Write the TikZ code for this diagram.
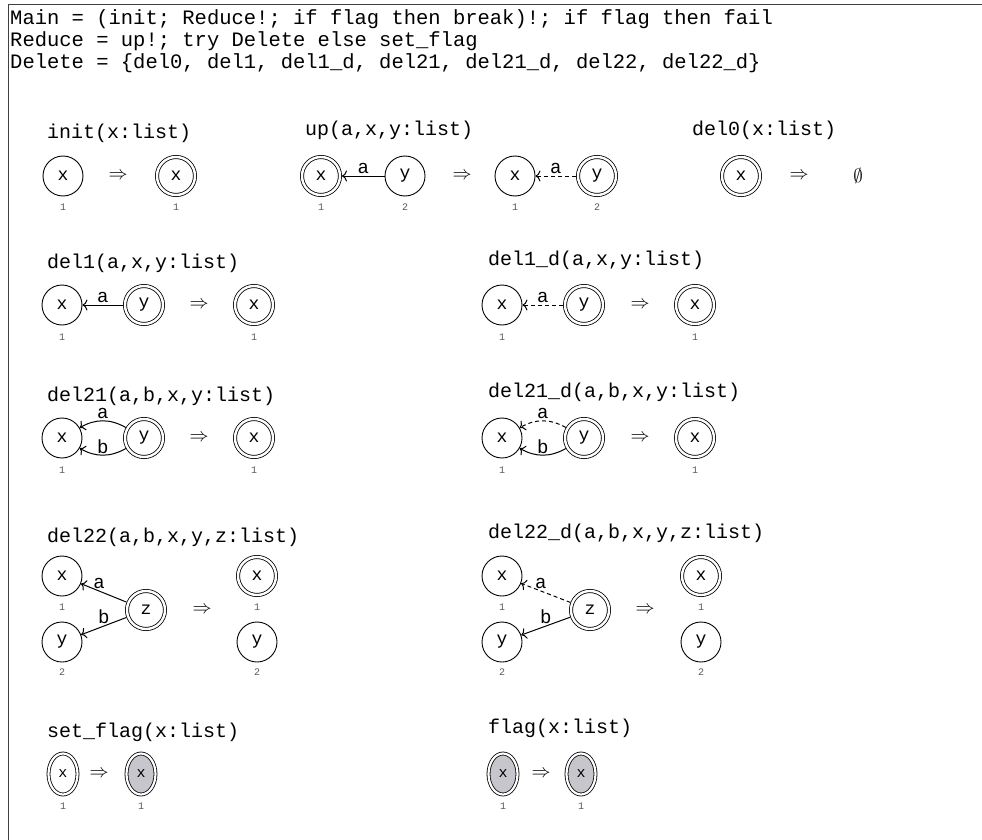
\RequirePackage{fix-cm}
\documentclass[tikz,border=0pt]{standalone}
\usepackage{fontspec}
\setmonofont{Liberation Mono}
\usetikzlibrary{arrows.meta,shapes.geometric}
\definecolor{flaggray}{RGB}{198,198,204}
\begin{document}
\begin{tikzpicture}[x=1pt,y=-1pt,
  hd/.style={anchor=west, inner sep=0pt, font=\fontsize{20.5}{22}\selectfont\ttfamily},
  lbl/.style={anchor=west, inner sep=0pt, font=\fontsize{20}{22}\selectfont\ttfamily},
  sn/.style={circle, draw, line width=0.9pt, minimum size=40pt, inner sep=0pt, font=\fontsize{18}{18}\selectfont\ttfamily},
  dn/.style={circle, draw, double, double distance=2.4pt, line width=0.8pt, minimum size=38pt, inner sep=0pt, outer sep=2pt, font=\fontsize{18}{18}\selectfont\ttfamily},
  en/.style={ellipse, draw, double, double distance=2.2pt, line width=0.8pt, minimum width=29pt, minimum height=41pt, inner sep=0pt, outer sep=2pt, font=\fontsize{15}{15}\selectfont\ttfamily},
  gr/.style={fill=flaggray},
  imp/.style={inner sep=0pt, font=\fontsize{19}{19}\selectfont},
  idx/.style={inner sep=0pt, text=black!65, font=\fontsize{10}{10}\selectfont\ttfamily},
  el/.style={inner sep=1.5pt, font=\fontsize{19}{19}\selectfont\ttfamily},
  arr/.style={line width=1pt, -{To[length=5pt,width=11pt]}},
  dsh/.style={dash pattern=on 4pt off 3pt},
  frame/.style={line width=1pt, draw=black!75},
]
\useasboundingbox (0,0) rectangle (982,840);
% frame
\coordinate (fTL) at (8,5);
\coordinate (fTR) at (982,5);
\coordinate (fBL) at (8,840);
\draw[frame] (fTR) -- (fTL) -- (fBL);
% header
\node[hd] (h1) at (10,19) {Main = (init; Reduce!; if flag then break)!; if flag then fail};
\node[hd] (h2) at (10,41) {Reduce = up!; try Delete else set\_flag};
\node[hd] (h3) at (10,63) {Delete = \{del0, del1, del1\_d, del21, del21\_d, del22, del22\_d\}};

% ---------- row 1 ----------
\node[lbl] (tinit) at (47,133) {init(x:list)};
\node[sn] (i1) at (63,176) {x};
\node[imp] (iar) at (118,176) {$\Rightarrow$};
\node[dn] (i2) at (176,176) {x};
\node[idx] (i1n) at (63,207) {1};
\node[idx] (i2n) at (176,207) {1};

\node[lbl] (tup) at (305,130) {up(a,x,y:list)};
\node[dn] (u1) at (321,176) {x};
\node[sn] (u2) at (405,176) {y};
\draw[arr] (u2) -- node[above, el] {a} (u1);
\node[imp] (uar) at (462,176) {$\Rightarrow$};
\node[sn] (u3) at (515,176) {x};
\node[dn] (u4) at (597,176) {y};
\draw[arr, dsh] (u4) -- node[above, el] {a} (u3);
\node[idx] (u1n) at (321,207) {1};
\node[idx] (u2n) at (405,207) {2};
\node[idx] (u3n) at (515,207) {1};
\node[idx] (u4n) at (597,207) {2};

\node[lbl] (tdel0) at (692,130) {del0(x:list)};
\node[dn] (z1) at (741,176) {x};
\node[imp] (zar) at (799,176) {$\Rightarrow$};
\node[imp] (zem) at (858,176) {$\emptyset$};

% ---------- row 2 ----------
\node[lbl] (tdel1) at (47,263) {del1(a,x,y:list)};
\node[sn] (a1) at (62,305) {x};
\node[dn] (a2) at (144,305) {y};
\draw[arr] (a2) -- node[above, el] {a} (a1);
\node[imp] (aar) at (199,305) {$\Rightarrow$};
\node[dn] (a3) at (254,305) {x};
\node[idx] (a1n) at (62,337) {1};
\node[idx] (a3n) at (254,337) {1};

\node[lbl] (tdel1d) at (488,260) {del1\_d(a,x,y:list)};
\node[sn] (b1) at (502,305) {x};
\node[dn] (b2) at (584,305) {y};
\draw[arr, dsh] (b2) -- node[above, el] {a} (b1);
\node[imp] (bar) at (640,305) {$\Rightarrow$};
\node[dn] (b3) at (695,305) {x};
\node[idx] (b1n) at (502,337) {1};
\node[idx] (b3n) at (695,337) {1};

% ---------- row 3 ----------
\node[lbl] (tdel21) at (47,396) {del21(a,b,x,y:list)};
\node[sn] (c1) at (62,438) {x};
\node[dn] (c2) at (144,438) {y};
\draw[arr] (c2) to[bend right=30] node[above, el] {a} (c1);
\draw[arr] (c2) to[bend left=30] node[above, el, inner sep=0.5pt] {b} (c1);
\node[imp] (car) at (199,438) {$\Rightarrow$};
\node[dn] (c3) at (254,438) {x};
\node[idx] (c1n) at (62,470) {1};
\node[idx] (c3n) at (254,470) {1};

\node[lbl] (tdel21d) at (488,392) {del21\_d(a,b,x,y:list)};
\node[sn] (d1) at (502,438) {x};
\node[dn] (d2) at (584,438) {y};
\draw[arr, dsh] (d2) to[bend right=30] node[above, el] {a} (d1);
\draw[arr] (d2) to[bend left=30] node[above, el, inner sep=0.5pt] {b} (d1);
\node[imp] (dar) at (640,438) {$\Rightarrow$};
\node[dn] (d3) at (695,438) {x};
\node[idx] (d1n) at (502,470) {1};
\node[idx] (d3n) at (695,470) {1};

% ---------- row 4 ----------
\node[lbl] (tdel22) at (47,537) {del22(a,b,x,y,z:list)};
\node[sn] (e1) at (62,576) {x};
\node[sn] (e2) at (62,642) {y};
\node[dn] (e3) at (146,610) {z};
\draw[arr] (e3) -- node[above, el, pos=0.6] {a} (e1);
\draw[arr] (e3) -- node[above, el, pos=0.5] {b} (e2);
\node[imp] (ear) at (202,610) {$\Rightarrow$};
\node[dn] (e4) at (257,576) {x};
\node[sn] (e5) at (257,642) {y};
\node[idx] (e1n) at (62,607) {1};
\node[idx] (e2n) at (62,672) {2};
\node[idx] (e4n) at (257,607) {1};
\node[idx] (e5n) at (257,672) {2};

\node[lbl] (tdel22d) at (488,533) {del22\_d(a,b,x,y,z:list)};
\node[sn] (f1) at (502,576) {x};
\node[sn] (f2) at (502,642) {y};
\node[dn] (f3) at (590,610) {z};
\draw[arr, dsh] (f3) -- node[above, el, pos=0.6] {a} (f1);
\draw[arr] (f3) -- node[above, el, pos=0.5] {b} (f2);
\node[imp] (far) at (645,610) {$\Rightarrow$};
\node[dn] (f4) at (701,576) {x};
\node[sn] (f5) at (701,642) {y};
\node[idx] (f1n) at (502,607) {1};
\node[idx] (f2n) at (502,672) {2};
\node[idx] (f4n) at (701,607) {1};
\node[idx] (f5n) at (701,672) {2};

% ---------- row 5 ----------
\node[lbl] (tset) at (47,732) {set\_flag(x:list)};
\node[en] (g1) at (63,774) {x};
\node[imp] (gar) at (99,774) {$\Rightarrow$};
\node[en, gr] (g2) at (141,774) {x};
\node[idx] (g1n) at (63,806) {1};
\node[idx] (g2n) at (141,806) {1};

\node[lbl] (tflag) at (488,728) {flag(x:list)};
\node[en, gr] (k1) at (503,774) {x};
\node[imp] (kar) at (541,774) {$\Rightarrow$};
\node[en, gr] (k2) at (581,774) {x};
\node[idx] (k1n) at (503,806) {1};
\node[idx] (k2n) at (581,806) {1};
\end{tikzpicture}
\end{document}
